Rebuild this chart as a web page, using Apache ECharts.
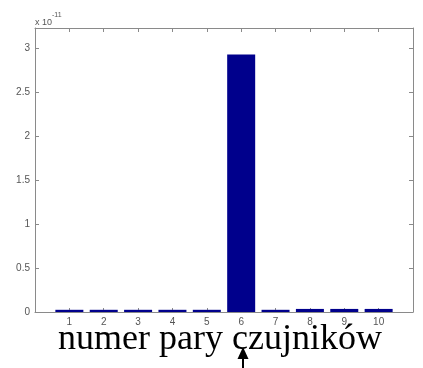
<!DOCTYPE html>
<html>
<head>
<meta charset="utf-8">
<script src="https://cdn.jsdelivr.net/npm/echarts@6/dist/echarts.min.js"></script>
<style>html,body{margin:0;padding:0;background:#fff}#c{width:423px;height:368px}</style>
</head>
<body>
<div id="c"></div>
<script>
const categories = [1, 2, 3, 4, 5, 6, 7, 8, 9, 10];
const values = [0.025, 0.025, 0.025, 0.025, 0.025, 2.93, 0.025, 0.035, 0.035, 0.035];
const yTicks = [0, 0.5, 1, 1.5, 2, 2.5, 3];
const xTitle = 'numer pary czujników';
const scaleLabel = 'x 10';
const scaleExp = '-11';

const chart = echarts.init(document.getElementById('c'), null, {renderer: 'canvas'});
const axisGrey = '#8a8a8a';
const labelGrey = '#555';
function axisBase() {
  return {
    axisLine: {show: true, onZero: false, lineStyle: {color: axisGrey, width: 1}},
    axisTick: {show: true, inside: true, length: 4, lineStyle: {color: axisGrey}},
    splitLine: {show: false}
  };
}
chart.setOption({
  animation: false,
  grid: {left: 35, right: 10, top: 28, bottom: 56},
  xAxis: [
    Object.assign(axisBase(), {
      type: 'value', min: 0, max: 11, interval: 1,
      axisLabel: {color: labelGrey, fontSize: 10, fontFamily: 'Liberation Sans', margin: 5,
        formatter: v => categories.includes(v) ? String(v) : ''}
    }),
    Object.assign(axisBase(), {
      type: 'value', min: 0, max: 11, interval: 1, position: 'top',
      axisLabel: {show: false}
    })
  ],
  yAxis: [
    Object.assign(axisBase(), {
      type: 'value', min: 0, max: 3.23, interval: 0.5,
      axisLabel: {color: labelGrey, fontSize: 10, fontFamily: 'Liberation Sans', margin: 5,
        formatter: v => yTicks.some(t => Math.abs(t - v) < 1e-9) ? String(v) : ''}
    }),
    Object.assign(axisBase(), {
      type: 'value', min: 0, max: 3.23, interval: 0.5, position: 'right',
      axisLabel: {show: false}
    })
  ],
  series: [{
    type: 'bar',
    data: categories.map((c, i) => [c, values[i]]),
    barWidth: 28,
    itemStyle: {color: '#00008c'}
  }],
  graphic: [
    {type: 'text', left: 35, top: 12,
      style: {text: '{a|' + scaleLabel + '}{b|' + scaleExp + '}',
        rich: {a: {fontSize: 9, fill: labelGrey, fontFamily: 'Liberation Sans', padding: [6, 0, 0, 0]},
               b: {fontSize: 7, fill: labelGrey, fontFamily: 'Liberation Sans', verticalAlign: 'top'}}}},
    {type: 'text', left: 58, top: 322,
      style: {text: xTitle, fill: '#000', fontSize: 36, fontFamily: 'Liberation Serif'}},
    {type: 'line', shape: {x1: 243, y1: 356, x2: 243, y2: 368}, style: {stroke: '#000', lineWidth: 2}},
    {type: 'polygon', shape: {points: [[243, 347], [237.5, 359], [248.5, 359]]}, style: {fill: '#000'}}
  ]
});
</script>
</body>
</html>
